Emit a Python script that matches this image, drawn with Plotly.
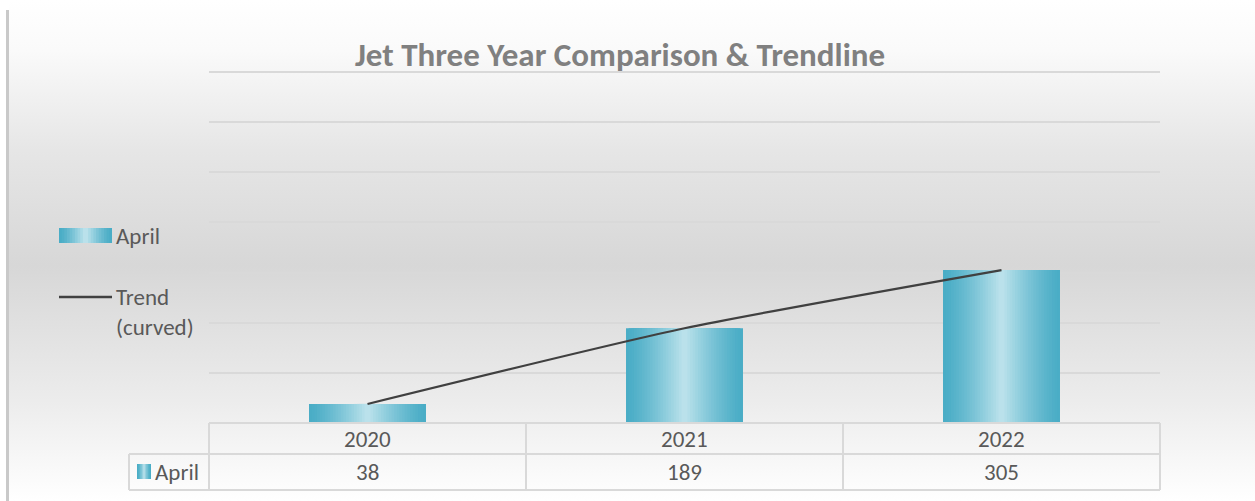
import base64
import plotly.graph_objects as go

years = ['2020', '2021', '2022']
april = [38, 189, 305]
series_name = 'April'
trend_name = 'Trend<br>(curved)'
title = 'Jet Three Year Comparison & Trendline'

# pixel layout of the plot area inside the 1255x501 page (y range 0..720)
L, R, T, B = 209, 1160, 62, 423
W, H = R - L, B - T
FONT = 'Carlito, Calibri, Lato, sans-serif'


def px(x):
    return (x - L) / W


def py(y):
    return (B - y) / H


def mix(c1, c2, t):
    a = [int(c1[i:i + 2], 16) for i in (1, 3, 5)]
    b = [int(c2[i:i + 2], 16) for i in (1, 3, 5)]
    return '#%02x%02x%02x' % tuple(round(a[i] + (b[i] - a[i]) * t) for i in range(3))


dark, light = '#4aadc6', '#bae1eb'
layers = 22

fig = go.Figure()

# bars: narrower, lighter layers on top of each other fake the cylinder gradient
for k in range(layers):
    t = k / (layers - 1)
    fig.add_trace(go.Bar(
        x=years, y=april, width=0.369 * (1 - 0.95 * t),
        marker=dict(color=mix(dark, light, t ** 1.3), line=dict(width=0)),
        name=series_name, showlegend=False, hoverinfo='skip' if k else None,
    ))

fig.add_trace(go.Scatter(
    x=years, y=april, mode='lines', name='Trend (curved)', showlegend=False,
    line=dict(color='#404040', width=2.2, shape='spline', smoothing=0.6),
))

# background gradient of the chart area
svg = ('<svg xmlns="http://www.w3.org/2000/svg" width="10" height="100" preserveAspectRatio="none">'
       '<defs><linearGradient id="g" x1="0" y1="0" x2="0" y2="1">'
       '<stop offset="0" stop-color="#ffffff"/>'
       '<stop offset="0.1" stop-color="#fafafa"/>'
       '<stop offset="0.3" stop-color="#e6e6e6"/>'
       '<stop offset="0.53" stop-color="#d7d7d7"/>'
       '<stop offset="0.8" stop-color="#ececec"/>'
       '<stop offset="1" stop-color="#ffffff"/>'
       '</linearGradient></defs><rect width="10" height="100" fill="url(#g)"/></svg>')
src = 'data:image/svg+xml;base64,' + base64.b64encode(svg.encode()).decode()

shapes = []
line_col = '#d9d9d9'
# left edge shadow
shapes.append(dict(type='line', xref='paper', yref='paper', x0=px(7.5), x1=px(7.5),
                   y0=py(10), y1=py(501), line=dict(color='#c9c9c9', width=3)))

# data table grid
row1, row2, row3 = 423, 454, 490
for yy in (row1, row2, row3):
    shapes.append(dict(type='line', xref='paper', yref='paper', x0=0, x1=1,
                       y0=py(yy), y1=py(yy), line=dict(color=line_col, width=2)))
for yy in (row2, row3):
    shapes.append(dict(type='line', xref='paper', yref='paper', x0=px(129), x1=0,
                       y0=py(yy), y1=py(yy), line=dict(color=line_col, width=2)))
for xx in (0, 1 / 3, 2 / 3, 1):
    shapes.append(dict(type='line', xref='paper', yref='paper', x0=xx, x1=xx,
                       y0=py(row1), y1=py(row3), line=dict(color=line_col, width=2)))
shapes.append(dict(type='line', xref='paper', yref='paper', x0=px(129), x1=px(129),
                   y0=py(row2), y1=py(row3), line=dict(color=line_col, width=2)))


def gradient_key(x0, x1, y0, y1, steps=10):
    out = []
    half = (x1 - x0) / 2
    mid = (x0 + x1) / 2
    for k in range(steps):
        t = k / (steps - 1)
        h = half * (1 - 0.9 * t)
        out.append(dict(type='rect', xref='paper', yref='paper', x0=px(mid - h), x1=px(mid + h),
                        y0=py(y0), y1=py(y1), line=dict(width=0),
                        fillcolor=mix(dark, light, t ** 1.3)))
    return out


# table legend key and left legend keys
shapes += gradient_key(137, 151, 464, 479, 5)
shapes += gradient_key(59, 112, 228, 243)
shapes.append(dict(type='line', xref='paper', yref='paper', x0=px(59), x1=px(112),
                   y0=py(297), y1=py(297), line=dict(color='#404040', width=2.5)))

txt = dict(family=FONT, size=23, color='#595959')
annotations = []
for i, (yr, v) in enumerate(zip(years, april)):
    annotations.append(dict(x=i, xref='x', y=py((row1 + row2) / 2), yref='paper', text=yr,
                            showarrow=False, font=txt, xanchor='center', yanchor='middle'))
    annotations.append(dict(x=i, xref='x', y=py((row2 + row3) / 2), yref='paper', text=str(v),
                            showarrow=False, font=txt, xanchor='center', yanchor='middle'))
annotations.append(dict(x=px(153), xref='paper', y=py(472), yref='paper', text=series_name,
                        showarrow=False, font=txt, xanchor='left', yanchor='middle'))
annotations.append(dict(x=px(114), xref='paper', y=py(236), yref='paper', text=series_name,
                        showarrow=False, font=txt, xanchor='left', yanchor='middle'))
annotations.append(dict(x=px(114), xref='paper', y=py(281), yref='paper', text=trend_name,
                        showarrow=False, font=txt, xanchor='left', yanchor='top', align='left'))

fig.update_layout(
    width=1255, height=501,
    margin=dict(l=L, r=1255 - R, t=T, b=501 - B, autoexpand=False),
    paper_bgcolor='white', plot_bgcolor='rgba(0,0,0,0)',
    barmode='overlay', showlegend=False,
    title=dict(text='<b>' + title + '</b>', x=620 / 1255, xanchor='center', y=1 - 54 / 501,
               yanchor='middle', font=dict(family=FONT, size=33, color='#808080')),
    xaxis=dict(type='category', showticklabels=False, showgrid=False, zeroline=False,
               showline=False, ticks='', range=[-0.5, 2.5]),
    yaxis=dict(range=[0, 720], tickvals=[100, 200, 300, 400, 500, 600, 700],
               showticklabels=False, showgrid=True,
               gridcolor='#d9d9d9', gridwidth=1.5, zeroline=False, showline=False, ticks=''),
    images=[dict(source=src, xref='paper', yref='paper', x=px(9), y=py(0),
                 sizex=(1255 - 9) / W, sizey=501 / H, sizing='stretch',
                 xanchor='left', yanchor='top', layer='below')],
    shapes=shapes, annotations=annotations,
)

fig.write_html('out.html', config={'displayModeBar': False},
               post_script="document.body.style.margin='0';")
